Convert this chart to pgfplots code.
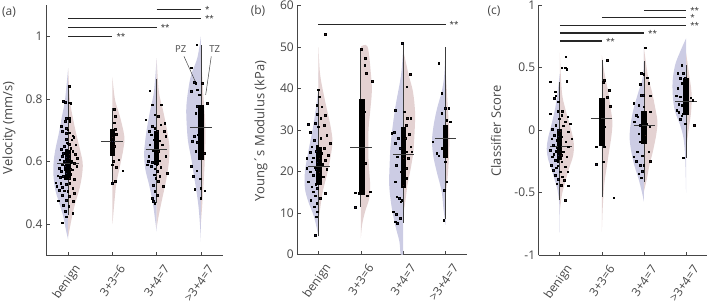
\documentclass[border=0pt]{standalone}
\usepackage{fontspec}
\setmainfont{Open Sans}
\usepackage{pgfplots}
\pgfplotsset{compat=1.18}
\definecolor{lav}{RGB}{204,204,228}
\definecolor{pnk}{RGB}{228,210,210}
\definecolor{ptl}{RGB}{28,28,72}
\definecolor{ptr}{RGB}{58,26,26}
\definecolor{axgray}{RGB}{70,70,70}
\definecolor{mdgray}{RGB}{60,60,60}
\definecolor{siggray}{RGB}{38,38,38}
\pgfplotsset{
  common/.style={scale only axis, axis lines*=left,
    axis line style={draw=axgray, line width=0.6pt, -},
    tick align=inside, major tick length=3.5pt,
    tick style={draw=axgray, line width=0.6pt},
    xtick={1,2,3,4}, xticklabels={benign,3+3=6,3+4=7,{>3+4=7}},
    xmin=0.5, xmax=4.5, clip=false,
    /pgf/number format/assume math mode=true,
    ticklabel style={font=\fontsize{12}{14}\selectfont, text=axgray},
    xticklabel style={xshift=12pt, yshift=-8.5pt, rotate=55, anchor=east},
    label style={font=\fontsize{13}{15}\selectfont, text=axgray},
  },
  vl/.style={fill=lav, draw=none, smooth, tension=0.55, no marks},
  vr/.style={fill=pnk, draw=none, smooth, tension=0.55, no marks},
  wh/.style={draw=mdgray, line width=0.7pt, no marks},
  bx/.style={fill=black, draw=none, no marks},
  md/.style={draw=mdgray, line width=0.8pt, no marks},
  pl/.style={only marks, mark=square*, mark size=0.8pt, mark options={fill=ptl, draw=none}},
  pr/.style={only marks, mark=square*, mark size=0.8pt, mark options={fill=ptr, draw=none}},
  sig/.style={draw=siggray, line width=1.4pt, no marks},
}
\tikzset{st/.style={anchor=west, font=\fontsize{8}{9}\selectfont, text=siggray, inner sep=1pt, xshift=3pt}}
\begin{document}
\begin{tikzpicture}
\useasboundingbox (0pt,0pt) rectangle (708pt,304pt);
% ---------------- (a) ----------------
\begin{axis}[common, at={(46pt,48.7pt)}, anchor=south west, width=177pt, height=250.3pt,
  ymin=0.3, ymax=1.1, ytick={0.4,0.6,0.8,1},
  ylabel={Velocity (mm/s)}, ylabel style={at={(axis description cs:-0.209,0.51)}, anchor=center}]
\addplot[vl] coordinates {(1,0.898) (0.93,0.797) (0.86,0.744) (0.79,0.69) (0.71,0.637) (0.67,0.594) (0.67,0.552) (0.71,0.509) (0.80,0.466) (0.89,0.424) (0.95,0.381) (1,0.35)};
\addplot[vr] coordinates {(1,0.898) (1.04,0.797) (1.10,0.744) (1.18,0.69) (1.27,0.637) (1.33,0.594) (1.31,0.552) (1.25,0.509) (1.16,0.466) (1.09,0.424) (1.03,0.381) (1,0.36)};
\addplot[vr] coordinates {(2,0.87) (2.06,0.797) (2.17,0.744) (2.27,0.68) (2.245,0.637) (2.17,0.584) (2.09,0.53) (2.05,0.477) (2.01,0.413) (2,0.40)};
\addplot[vl] coordinates {(3,0.93) (2.94,0.824) (2.85,0.76) (2.77,0.696) (2.72,0.632) (2.74,0.579) (2.83,0.525) (2.91,0.472) (2.96,0.419) (3,0.376)};
\addplot[vr] coordinates {(3,0.93) (3.05,0.824) (3.15,0.76) (3.24,0.696) (3.29,0.643) (3.27,0.589) (3.21,0.536) (3.13,0.483) (3.05,0.429) (3,0.387)};
\addplot[vl] coordinates {(4,1.0) (3.92,0.931) (3.78,0.877) (3.71,0.824) (3.67,0.771) (3.68,0.717) (3.71,0.664) (3.78,0.611) (3.84,0.557) (3.90,0.504) (3.95,0.451) (3.99,0.376) (4,0.344)};
\addplot[vr] coordinates {(4,0.95) (4.05,0.824) (4.10,0.717) (4.09,0.611) (4.05,0.504) (4,0.40)};
% whiskers
\addplot[wh] coordinates {(1,0.43) (1,0.84)};
\addplot[wh] coordinates {(2,0.53) (2,0.77)};
\addplot[wh] coordinates {(3,0.467) (3,0.865)};
\addplot[wh] coordinates {(4,0.483) (4,0.973)};
% points
\addplot[pl] coordinates {(0.89,0.792) (0.93,0.790) (0.95,0.738) (0.93,0.728) (0.84,0.712) (0.96,0.706) (0.99,0.701) (0.87,0.696) (0.95,0.671) (0.99,0.658) (0.91,0.648) (0.96,0.637) (0.89,0.626) (0.86,0.616) (0.95,0.614) (0.81,0.605) (0.93,0.600) (0.87,0.589) (0.80,0.578) (0.92,0.575) (0.84,0.568) (0.96,0.562) (0.76,0.554) (0.89,0.552) (0.72,0.532) (0.83,0.530) (0.95,0.528) (0.74,0.520) (0.86,0.518) (0.80,0.509) (0.91,0.507) (0.99,0.504) (0.87,0.493) (0.95,0.477) (0.78,0.475) (0.89,0.461) (0.93,0.440) (0.96,0.424) (0.87,0.404) (0.97,0.62) (0.94,0.585) (0.98,0.57) (0.90,0.60) (0.97,0.66) (0.92,0.545) (0.98,0.59) (0.85,0.64) (0.96,0.69) (0.82,0.55)
 (1.99,0.664) (1.99,0.530)
 (2.848,0.826) (2.901,0.781) (2.954,0.749) (2.750,0.733) (2.901,0.712) (2.954,0.707) (2.833,0.696) (2.878,0.685) (2.939,0.669) (2.848,0.653) (2.908,0.634) (2.825,0.616) (2.954,0.611) (2.803,0.600) (2.901,0.598) (2.999,0.592) (2.878,0.584) (2.954,0.577) (2.788,0.589) (2.939,0.557) (2.976,0.547) (2.923,0.525) (2.954,0.504) (2.901,0.483) (2.923,0.472) (2.954,0.467)
 (3.904,0.973) (3.783,0.899) (3.843,0.854) (3.881,0.851) (3.783,0.824) (3.919,0.829) (3.957,0.813) (3.919,0.776) (3.881,0.755) (3.994,0.739) (3.934,0.685) (3.843,0.680) (3.806,0.664) (3.919,0.662) (3.881,0.632) (3.783,0.584) (3.904,0.570) (3.828,0.552) (3.979,0.545) (3.994,0.515) (3.859,0.512) (3.994,0.483)};
\addplot[pr] coordinates {(1.03,0.840) (1.01,0.788) (1.06,0.786) (1.03,0.738) (1.04,0.728) (1.02,0.692) (1.10,0.682) (1.13,0.677) (1.08,0.669) (1.17,0.653) (1.06,0.642) (1.10,0.632) (1.02,0.624) (1.16,0.624) (1.21,0.610) (1.06,0.596) (1.14,0.594) (1.01,0.586) (1.19,0.584) (1.10,0.573) (1.06,0.560) (1.02,0.546) (1.14,0.543) (1.10,0.514) (1.14,0.498) (1.02,0.488) (1.11,0.472) (1.01,0.456) (1.10,0.434) (1.03,0.61) (1.05,0.575) (1.02,0.655) (1.08,0.60) (1.04,0.53)
 (2.04,0.767) (2.06,0.744) (2.04,0.724) (2.06,0.703) (2.09,0.688) (2.0,0.678) (2.04,0.648) (2.03,0.637) (2.0,0.589) (2.08,0.582) (2.23,0.570) (2.06,0.536) (2.14,0.605) (2.02,0.60)
 (3.104,0.781) (3.029,0.744) (3.089,0.717) (3.180,0.723) (3.165,0.696) (3.014,0.696) (3.202,0.680) (3.052,0.666) (3.127,0.653) (3.029,0.632) (3.202,0.616) (3.052,0.602) (3.089,0.581) (3.014,0.568) (3.074,0.552) (3.240,0.563) (3.029,0.536) (3.150,0.520) (3.014,0.493)
 (4.032,0.851) (4.145,0.787) (4.070,0.627) (4.085,0.507)};
% boxes
\addplot[bx] coordinates {(0.935,0.541) (1.065,0.541) (1.065,0.637) (0.935,0.637)};
\addplot[bx] coordinates {(1.94,0.616) (2.06,0.616) (2.06,0.704) (1.94,0.704)};
\addplot[bx] coordinates {(2.945,0.589) (3.06,0.589) (3.06,0.696) (2.945,0.696)};
\addplot[bx] coordinates {(3.94,0.605) (4.08,0.605) (4.08,0.781) (3.94,0.781)};
% medians
\addplot[md] coordinates {(0.75,0.594) (1.25,0.594)};
\addplot[md] coordinates {(1.74,0.665) (2.25,0.665)};
\addplot[md] coordinates {(2.75,0.637) (3.24,0.637)};
\addplot[md] coordinates {(3.75,0.709) (4.26,0.709)};
% significance
\addplot[sig] coordinates {(1,1.0) (2,1.0)};
\addplot[sig] coordinates {(1,1.029) (3,1.029)};
\addplot[sig] coordinates {(1,1.057) (4,1.057)};
\addplot[sig] coordinates {(3,1.085) (4,1.085)};
\node[st] at (axis cs:2,1.0) {**};
\node[st] at (axis cs:3,1.029) {**};
\node[st] at (axis cs:4,1.057) {**};
\node[st] at (axis cs:4,1.085) {*};
% PZ / TZ
\draw[axgray, line width=0.5pt] (axis cs:3.618,0.936) -- (axis cs:3.873,0.856);
\draw[axgray, line width=0.5pt] (axis cs:4.235,0.936) -- (axis cs:4.109,0.813);
\node[font=\fontsize{9.5}{11}\selectfont, text=axgray] at (axis cs:3.543,0.958) {PZ};
\node[font=\fontsize{9.5}{11}\selectfont, text=axgray] at (axis cs:4.31,0.958) {TZ};
\end{axis}
% ---------------- (b) ----------------
\begin{axis}[common, at={(297.3pt,49.7pt)}, anchor=south west, width=169.4pt, height=248.6pt,
  ymin=0, ymax=60, ytick={0,10,20,30,40,50,60},
  ylabel={Young´s Modulus (kPa)}, ylabel style={at={(axis description cs:-0.214,0.496)}, anchor=center}]
\addplot[vl] coordinates {(1,44) (0.99,39.3) (0.88,31.2) (0.76,24.8) (0.68,20.0) (0.68,15.9) (0.76,12.7) (0.88,9.5) (0.96,6.3) (1,3.9)};
\addplot[vr] coordinates {(1,50) (1.04,43.3) (1.16,36.8) (1.28,31.2) (1.33,27.2) (1.28,23.2) (1.20,19.2) (1.10,15.1) (1.04,11.1) (1,7.9)};
\addplot[vr] coordinates {(2,50.1) (2.16,50.1) (2.24,43.3) (2.26,39.3) (2.22,34.4) (2.18,29.6) (2.18,23.2) (2.22,16.7) (2.20,13.5) (2.10,10.3) (2.03,7.1) (2,3.9)};
\addplot[vl] coordinates {(3,50) (2.95,43.3) (2.81,35.2) (2.71,27.2) (2.68,21.6) (2.67,16.7) (2.72,11.9) (2.81,7.1) (2.91,3.1) (2.94,0) (3,0)};
\addplot[vr] coordinates {(3,49.3) (3.13,43.3) (3.23,39.3) (3.28,34.4) (3.27,29.6) (3.24,24.8) (3.18,20.8) (3.10,16.7) (3.05,12.7) (3,9.5)};
\addplot[vl] coordinates {(4,50) (3.97,43.3) (3.91,39.3) (3.80,35.2) (3.72,31.2) (3.68,27.2) (3.72,23.2) (3.81,19.2) (3.91,15.1) (3.95,11.1) (4,7.1)};
\addplot[vr] coordinates {(4,45) (4.05,36) (4.09,28) (4.06,20) (4,14)};
\addplot[wh] coordinates {(1,4.5) (1,40)};
\addplot[wh] coordinates {(2,11.5) (2,49.5)};
\addplot[wh] coordinates {(3,7.6) (3,51.0)};
\addplot[wh] coordinates {(4,8.4) (4,50)};
\addplot[pl] coordinates {(0.999,39.7) (0.960,36.04) (0.976,33.79) (0.762,31.38) (0.920,31.62) (0.999,30.82) (0.802,29.45) (0.897,27.60) (0.841,25.99) (0.976,26.23) (0.944,24.94) (0.802,24.62) (0.723,23.18) (0.881,23.34) (0.841,22.37) (0.976,22.21) (0.723,20.76) (0.920,20.93) (0.802,19.96) (0.881,19.16) (0.960,17.95) (0.762,17.55) (0.841,16.34) (0.976,15.94) (0.881,15.14) (0.920,14.17) (0.817,13.12) (0.960,12.32) (0.897,11.52) (0.976,10.31) (0.944,9.10) (0.920,4.68) (0.95,20.5) (0.98,18.6) (0.93,16.9) (0.97,24.0)
 (1.868,14.9) (1.947,14.7) (1.987,15.1) (1.868,11.3)
 (2.98,51.0) (2.808,34.84) (2.784,29.45) (2.729,29.21) (2.887,28.0) (2.808,26.8) (2.927,25.6) (2.863,23.58) (2.832,21.57) (2.942,19.96) (2.808,17.55) (2.848,13.93) (2.911,13.53) (2.966,13.12) (2.942,12.72) (2.769,10.31) (2.832,9.67) (2.808,7.90) (2.863,7.49) (2.927,8.70)
 (3.835,46.1) (3.914,38.86) (3.993,35.24) (3.914,34.03) (3.701,27.2) (3.914,25.59) (3.795,24.38) (3.835,23.82) (3.953,23.58) (3.993,22.37) (3.969,15.54) (3.953,8.3)};
\addplot[pr] coordinates {(1.157,53.1) (1.023,38.05) (1.078,35.64) (1.157,33.63) (1.054,32.83) (1.133,31.22) (1.197,28.81) (1.054,28.00) (1.276,26.79) (1.133,25.59) (1.078,24.38) (1.236,23.98) (1.023,23.18) (1.157,22.77) (1.102,21.73) (1.197,20.60) (1.023,19.80) (1.118,18.75) (1.054,17.14) (1.157,14.73) (1.038,13.53) (1.01,21.6)
 (2.002,49.55) (2.105,47.3) (2.089,45.7) (2.129,43.7) (2.263,41.8) (2.081,34.4) (2.065,26.8) (2.105,22.0) (2.145,14.1) (2.223,15.1)
 (3.163,43.44) (3.085,40.47) (3.021,34.44) (3.100,32.83) (3.179,32.83) (3.069,31.22) (3.148,28.97) (3.045,28.0) (3.179,26.0) (3.085,24.8) (3.203,24.8) (3.005,23.18) (3.124,23.18) (3.069,20.76) (3.085,18.35) (3.005,16.74)
 (4.072,35.24) (4.032,32.42) (4.111,32.02) (4.032,17.55)};
\addplot[bx] coordinates {(0.945,16.7) (1.08,16.7) (1.08,26.0) (0.945,26.0)};
\addplot[bx] coordinates {(1.945,14.3) (2.10,14.3) (2.10,37.5) (1.945,37.5)};
\addplot[bx] coordinates {(2.945,15.9) (3.07,15.9) (3.07,30.8) (2.945,30.8)};
\addplot[bx] coordinates {(3.94,23.2) (4.07,23.2) (4.07,31.2) (3.94,31.2)};
\addplot[md] coordinates {(0.76,21.2) (1.28,21.2)};
\addplot[md] coordinates {(1.75,25.7) (2.26,25.7)};
\addplot[md] coordinates {(2.755,24.1) (3.26,24.1)};
\addplot[md] coordinates {(3.75,28.0) (4.25,28.0)};
\addplot[sig] coordinates {(1,55.5) (4,55.5)};
\node[st] at (axis cs:4,55.5) {**};
\end{axis}
% ---------------- (c) ----------------
\begin{axis}[common, at={(538.7pt,48.7pt)}, anchor=south west, width=168.4pt, height=250.3pt,
  ymin=-1, ymax=1, ytick={-1,-0.5,0,0.5,1},
  ylabel={Classifier Score}, ylabel style={at={(axis description cs:-0.254,0.497)}, anchor=center}]
\addplot[vl] coordinates {(1,0.45) (0.95,0.307) (0.89,0.173) (0.80,0.04) (0.72,-0.067) (0.69,-0.147) (0.72,-0.227) (0.80,-0.307) (0.87,-0.387) (0.94,-0.467) (0.985,-0.573) (0.995,-0.7) (1,-0.82)};
\addplot[vr] coordinates {(1,0.62) (1.05,0.307) (1.13,0.173) (1.24,0.04) (1.33,-0.093) (1.32,-0.2) (1.22,-0.307) (1.13,-0.413) (1.05,-0.52) (1,-0.653)};
\addplot[vr] coordinates {(2,0.60) (2.07,0.44) (2.15,0.307) (2.21,0.173) (2.25,0.067) (2.23,-0.04) (2.17,-0.173) (2.11,-0.307) (2.055,-0.44) (2.02,-0.627) (2,-0.81)};
\addplot[vl] coordinates {(3,0.68) (2.98,0.44) (2.87,0.307) (2.755,0.173) (2.68,0.04) (2.66,-0.067) (2.70,-0.173) (2.77,-0.28) (2.87,-0.387) (2.95,-0.493) (3,-0.573)};
\addplot[vr] coordinates {(3,0.66) (3.09,0.44) (3.19,0.307) (3.27,0.173) (3.32,0.067) (3.29,-0.04) (3.21,-0.173) (3.13,-0.28) (3.07,-0.387) (3,-0.49)};
\addplot[vl] coordinates {(4,0.733) (3.86,0.627) (3.74,0.52) (3.68,0.387) (3.69,0.253) (3.74,0.147) (3.86,0.04) (3.94,-0.067) (3.98,-0.227) (4,-0.5)};
\addplot[vr] coordinates {(4,0.62) (4.07,0.45) (4.13,0.30) (4.12,0.15) (4.06,0.0) (4,-0.15)};
\addplot[wh] coordinates {(1,-0.56) (1,0.387)};
\addplot[wh] coordinates {(2,-0.533) (2,0.56)};
\addplot[wh] coordinates {(3,-0.413) (3,0.55)};
\addplot[wh] coordinates {(4,-0.22) (4,0.52)};
\addplot[pl] coordinates {(0.772,0.387) (0.890,0.307) (0.906,0.275) (0.874,0.253) (0.969,0.227) (0.772,0.133) (0.953,0.152) (0.985,0.093) (0.906,0.040) (0.827,0.008) (0.874,-0.040) (0.811,-0.067) (0.930,-0.080) (0.851,-0.120) (0.985,-0.125) (0.772,-0.160) (0.906,-0.168) (0.969,-0.200) (0.827,-0.213) (0.890,-0.240) (0.796,-0.280) (0.953,-0.285) (0.851,-0.320) (0.890,-0.360) (0.969,-0.392) (0.930,-0.427) (0.96,-0.05) (0.93,-0.14) (0.98,-0.18) (0.95,-0.25) (0.97,0.0) (0.92,-0.30) (0.86,-0.19)
 (1.949,0.093) (1.87,-0.133) (1.862,-0.272)
 (2.928,0.453) (2.991,0.445) (2.912,0.365) (2.976,0.280) (2.928,0.280) (2.754,0.213) (2.873,0.200) (2.991,0.187) (2.818,0.120) (2.849,0.107) (2.952,0.093) (2.770,0.067) (2.912,0.040) (2.976,-0.013) (2.873,-0.027) (2.991,-0.080) (2.912,-0.093) (2.833,-0.173) (2.952,-0.205) (2.754,-0.213) (2.818,-0.248) (2.912,-0.280) (2.991,-0.280) (2.952,-0.328) (2.873,-0.347) (2.928,-0.381)
 (3.900,0.520) (3.797,0.453) (3.939,0.453) (3.860,0.413) (3.979,0.413) (3.900,0.373) (3.797,0.333) (3.765,0.275) (3.860,0.267) (3.821,0.205) (3.900,0.200) (3.781,0.160) (3.821,0.141) (3.939,0.133) (3.900,0.115) (3.860,0.088) (3.979,0.053) (3.939,-0.221)};
\addplot[pr] coordinates {(1.143,0.587) (1.127,0.499) (1.048,0.499) (1.167,0.488) (1.167,0.392) (1.064,0.152) (1.048,0.120) (1.190,0.107) (1.127,0.067) (1.246,0.053) (1.088,0.035) (1.009,-0.008) (1.206,-0.013) (1.048,-0.053) (1.285,-0.067) (1.143,-0.093) (1.206,-0.133) (1.088,-0.173) (1.167,-0.213) (1.048,-0.253) (1.127,-0.293) (1.009,-0.333) (1.190,-0.333) (1.064,-0.373) (1.112,-0.400) (1.032,-0.440) (1.206,-0.445) (1.127,-0.560) (1.02,-0.10) (1.03,-0.20)
 (2.123,0.56) (2.06,0.40) (2.028,0.381) (2.178,0.32) (2.123,0.261) (2.202,0.192) (2.004,0.155) (2.06,0.027) (2.06,-0.133) (2.028,-0.253) (2.28,-0.539)
 (3.031,0.659) (3.070,0.419) (3.110,0.373) (3.149,0.275) (3.149,0.147) (3.055,0.053) (3.134,0.027) (3.031,-0.040) (3.110,-0.173) (3.149,-0.248)
 (4.113,0.259) (4.160,0.240) (4.192,0.040)};
\addplot[bx] coordinates {(0.937,-0.24) (1.063,-0.24) (1.063,0.013) (0.937,0.013)};
\addplot[bx] coordinates {(1.937,-0.125) (2.07,-0.125) (2.07,0.253) (1.937,0.253)};
\addplot[bx] coordinates {(2.937,-0.107) (3.07,-0.107) (3.07,0.152) (2.937,0.152)};
\addplot[bx] coordinates {(3.937,0.125) (4.08,0.125) (4.08,0.413) (3.937,0.413)};
\addplot[md] coordinates {(0.77,-0.13) (1.28,-0.13)};
\addplot[md] coordinates {(1.74,0.096) (2.245,0.096)};
\addplot[md] coordinates {(2.755,0.04) (3.27,0.04)};
\addplot[md] coordinates {(3.74,0.232) (4.25,0.232)};
\addplot[sig] coordinates {(1,0.712) (2,0.712)};
\addplot[sig] coordinates {(1,0.776) (3,0.776)};
\addplot[sig] coordinates {(1,0.837) (4,0.837)};
\addplot[sig] coordinates {(2,0.899) (4,0.899)};
\addplot[sig] coordinates {(3,0.955) (4,0.955)};
\node[st] at (axis cs:2,0.712) {**};
\node[st] at (axis cs:3,0.776) {**};
\node[st] at (axis cs:4,0.837) {**};
\node[st] at (axis cs:4,0.899) {*};
\node[st] at (axis cs:4,0.955) {**};
\end{axis}
% panel letters
\node[font=\fontsize{12}{14}\selectfont, text=axgray] at (9pt,292pt) {(a)};
\node[font=\fontsize{12}{14}\selectfont, text=axgray] at (258pt,293pt) {(b)};
\node[font=\fontsize{12}{14}\selectfont, text=axgray] at (494pt,293pt) {(c)};
\end{tikzpicture}
\end{document}
